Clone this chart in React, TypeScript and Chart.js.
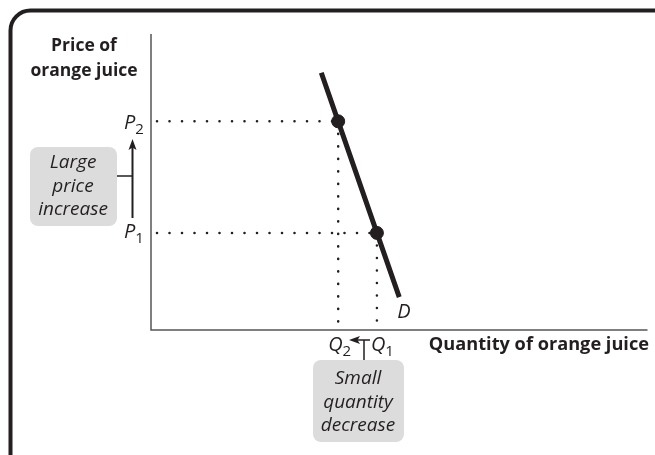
import React, { useEffect, useRef } from "react";
import { Chart, registerables } from "chart.js";

Chart.register(...registerables);

// Axis ranges (arbitrary units)
const quantityRange = [0, 10];
const priceRange = [0, 10];

// Demand curve D (quantity, price)
const demandQ = [3.43, 3.77, 4.55, 5.0];
const demandP = [8.69, 7.05, 3.28, 1.11];

// Two marked points: P2/Q2 and P1/Q1
const pointQ = [3.77, 4.55];
const pointP = [7.05, 3.28];
const priceTickLabels = ["2", "1"];
const quantityTickLabels = ["2", "1"];

const yTitle = ["Price of", "orange juice"];
const xTitle = "Quantity of orange juice";
const curveLabel = "D";
const priceBox = ["Large", "price", "increase"];
const quantityBox = ["Small", "quantity", "decrease"];

const INK = "#231f20";
const FONT = "'Open Sans', 'Noto Sans', sans-serif";

function roundRect(ctx: CanvasRenderingContext2D, x: number, y: number, w: number, h: number, r: number) {
  ctx.beginPath();
  ctx.moveTo(x + r, y);
  ctx.lineTo(x + w - r, y);
  ctx.arcTo(x + w, y, x + w, y + r, r);
  ctx.lineTo(x + w, y + h - r);
  ctx.arcTo(x + w, y + h, x + w - r, y + h, r);
  ctx.lineTo(x + r, y + h);
  ctx.arcTo(x, y + h, x, y + h - r, r);
  ctx.lineTo(x, y + r);
  ctx.arcTo(x, y, x + r, y, r);
  ctx.closePath();
}

function arrowHead(ctx: CanvasRenderingContext2D, x: number, y: number, dir: "up" | "left") {
  ctx.beginPath();
  if (dir === "up") {
    ctx.moveTo(x, y);
    ctx.lineTo(x - 4, y + 11);
    ctx.lineTo(x, y + 8.5);
    ctx.lineTo(x + 4, y + 11);
  } else {
    ctx.moveTo(x, y);
    ctx.lineTo(x + 11, y - 4);
    ctx.lineTo(x + 8.5, y);
    ctx.lineTo(x + 11, y + 4);
  }
  ctx.closePath();
  ctx.fill();
}

function subLabel(ctx: CanvasRenderingContext2D, letter: string, sub: string, x: number, baseline: number) {
  ctx.textAlign = "left";
  ctx.textBaseline = "alphabetic";
  ctx.font = `italic 20px ${FONT}`;
  ctx.fillText(letter, x, baseline);
  const w = ctx.measureText(letter).width;
  ctx.font = `15px ${FONT}`;
  ctx.fillText(sub, x + w, baseline + 5);
}

const decorPlugin = {
  id: "decor",
  beforeDraw(chart: any) {
    const ctx: CanvasRenderingContext2D = chart.ctx;
    ctx.save();
    ctx.fillStyle = "#ffffff";
    ctx.fillRect(0, 0, chart.width, chart.height);
    // frame
    ctx.strokeStyle = INK;
    ctx.lineWidth = 4;
    roundRect(ctx, 10.5, 10.5, 720, 465, 20);
    ctx.stroke();
    // boxes
    ctx.fillStyle = "#dcdcdc";
    roundRect(ctx, 30, 147, 87, 79, 8);
    ctx.fill();
    roundRect(ctx, 313, 360, 91, 82, 8);
    ctx.fill();
    ctx.restore();
  },
  beforeDatasetsDraw(chart: any) {
    const ctx: CanvasRenderingContext2D = chart.ctx;
    const { left, right, top, bottom } = chart.chartArea;
    ctx.save();
    ctx.strokeStyle = "#555555";
    ctx.lineWidth = 1.5;
    ctx.beginPath();
    ctx.moveTo(left, top);
    ctx.lineTo(left, bottom);
    ctx.lineTo(right, bottom);
    ctx.stroke();
    ctx.restore();
  },
  afterDraw(chart: any) {
    const ctx: CanvasRenderingContext2D = chart.ctx;
    const xs = chart.scales.x;
    const ys = chart.scales.y;
    const { bottom } = chart.chartArea;
    ctx.save();
    ctx.fillStyle = INK;
    ctx.strokeStyle = INK;

    // axis titles
    ctx.font = `bold 17.5px ${FONT}`;
    ctx.textAlign = "center";
    ctx.textBaseline = "middle";
    ctx.fillText(yTitle[0], 84, 46);
    ctx.fillText(yTitle[1], 84, 71);
    ctx.font = `bold 18.2px ${FONT}`;
    ctx.textAlign = "right";
    ctx.fillText(xTitle, 649, 345);

    // price labels
    const yP2 = ys.getPixelForValue(pointP[0]);
    const yP1 = ys.getPixelForValue(pointP[1]);
    subLabel(ctx, "P", priceTickLabels[0], 124, yP2 + 8);
    subLabel(ctx, "P", priceTickLabels[1], 124, yP1 + 5);

    // quantity labels
    const xQ2 = xs.getPixelForValue(pointQ[0]);
    const xQ1 = xs.getPixelForValue(pointQ[1]);
    subLabel(ctx, "Q", quantityTickLabels[0], xQ2 - 10, bottom + 21);
    subLabel(ctx, "Q", quantityTickLabels[1], xQ1 - 6, bottom + 21);

    // curve label
    const xD = xs.getPixelForValue(demandQ[demandQ.length - 1]);
    const yD = ys.getPixelForValue(demandP[demandP.length - 1]);
    ctx.font = `italic 20px ${FONT}`;
    ctx.textAlign = "left";
    ctx.textBaseline = "alphabetic";
    ctx.fillText(curveLabel, xD - 2, yD + 21);

    // price arrow
    const ax = 132.5;
    ctx.lineWidth = 2;
    ctx.beginPath();
    ctx.moveTo(ax, 218);
    ctx.lineTo(ax, 146);
    ctx.stroke();
    ctx.lineWidth = 1.5;
    ctx.beginPath();
    ctx.moveTo(117, 176);
    ctx.lineTo(ax, 176);
    ctx.stroke();
    arrowHead(ctx, ax, 139, "up");

    // quantity arrow
    const ay = bottom + 10;
    ctx.lineWidth = 1.5;
    ctx.beginPath();
    ctx.moveTo(370, ay);
    ctx.lineTo(355, ay);
    ctx.moveTo(364, ay);
    ctx.lineTo(364, 360);
    ctx.stroke();
    arrowHead(ctx, 349, ay, "left");

    // box texts
    ctx.font = `italic 19px ${FONT}`;
    ctx.textAlign = "center";
    ctx.textBaseline = "middle";
    priceBox.forEach((t, i) => ctx.fillText(t, 73, 163 + i * 23.5));
    quantityBox.forEach((t, i) => ctx.fillText(t, 358, 379 + i * 23.5));
    ctx.restore();
  },
};

export default function App() {
  const ref = useRef<HTMLCanvasElement>(null);
  useEffect(() => {
    if (!ref.current) return;
    const dotted = (pts: { x: number; y: number }[]) => ({
      type: "line" as const,
      data: pts,
      borderColor: INK,
      borderWidth: 2.5,
      borderDash: [0.1, 12.4],
      borderCapStyle: "round" as const,
      pointRadius: 0,
      fill: false,
    });
    const chart = new Chart(ref.current, {
      type: "line",
      data: {
        datasets: [
          {
            data: demandQ.map((q, i) => ({ x: q, y: demandP[i] })),
            borderColor: INK,
            borderWidth: 5,
            pointRadius: 0,
            order: 1,
          },
          {
            data: pointQ.map((q, i) => ({ x: q, y: pointP[i] })),
            showLine: false,
            pointRadius: 6.5,
            pointBackgroundColor: INK,
            pointBorderColor: INK,
            order: 0,
          },
          { ...dotted([{ x: 0.12, y: pointP[0] }, { x: pointQ[0], y: pointP[0] }]), order: 2 },
          { ...dotted([{ x: pointQ[0], y: pointP[0] }, { x: pointQ[0], y: 0 }]), order: 2 },
          { ...dotted([{ x: 0.12, y: pointP[1] }, { x: pointQ[1], y: pointP[1] }]), order: 2 },
          { ...dotted([{ x: pointQ[1], y: pointP[1] }, { x: pointQ[1], y: 0 }]), order: 2 },
        ],
      },
      options: {
        responsive: false,
        animation: false,
        layout: { padding: { left: 151, top: 34, right: 5, bottom: 125 } },
        plugins: { legend: { display: false }, tooltip: { enabled: false } },
        scales: {
          x: { type: "linear", min: quantityRange[0], max: quantityRange[1], display: false },
          y: { type: "linear", min: priceRange[0], max: priceRange[1], display: false },
        },
      },
      plugins: [decorPlugin],
    });
    return () => chart.destroy();
  }, []);
  return (
    <div style={{ position: "fixed", left: 0, top: 0, width: 655, height: 455 }}>
      <canvas ref={ref} width={655} height={455} />
    </div>
  );
}
